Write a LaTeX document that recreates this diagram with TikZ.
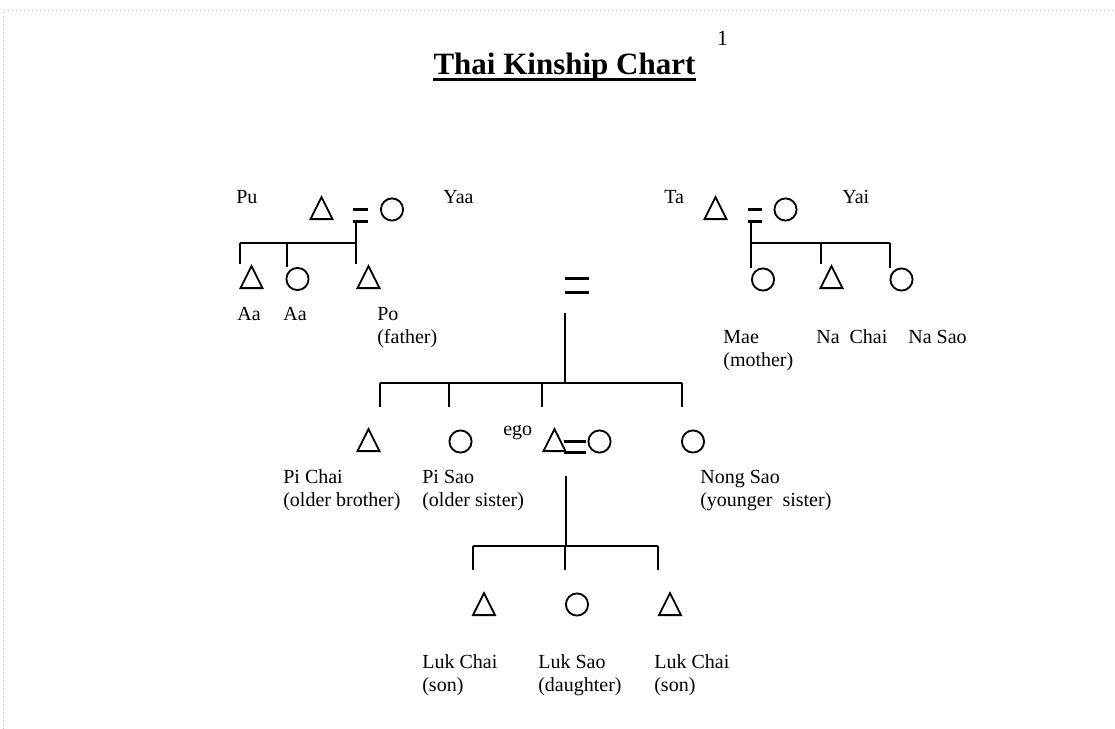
\documentclass[tikz,border=0pt]{standalone}
\usepackage{fontspec}
\setmainfont{Liberation Serif}
\usetikzlibrary{shapes.geometric}

\begin{document}
\begin{tikzpicture}[x=0.6pt, y=-0.6pt,
    male/.style={draw, line width=1.1pt, isosceles triangle, isosceles triangle stretches,
      shape border rotate=90, minimum width=13.2pt, minimum height=13.2pt, inner sep=0pt, anchor=south},
    female/.style={draw, circle, line width=1.1pt, minimum size=13.3pt, inner sep=0pt},
    wed/.style={inner sep=0pt},
    bar/.style={line width=1.8pt},
    kin/.style={line width=1.1pt},
    lbl/.style={anchor=base west, inner sep=0pt, align=left, font=\fontsize{12}{13.8}\selectfont}]
    \useasboundingbox (0,0) rectangle (1115,729);
    % Page edge
    \draw [gray!55, line width=0.6pt, dash pattern=on 0.9pt off 1.5pt] (3,729) -- (3,10) -- (1115,10);
    % Title
    \node [anchor=base, inner sep=0pt, font=\fontsize{18.6}{22}\selectfont\bfseries] (title) at (564.5,74) {Thai Kinship Chart};
    \draw [line width=2.1pt] ([yshift=-3.2pt]title.base west) -- ([yshift=-3.2pt]title.base east);
    \node [anchor=base, inner sep=0pt, font=\fontsize{13}{15}\selectfont] (page) at (722.5,45) {1};

    % Father's parents (base of a two-line label = its second line)
    \node [male] (pu) at (321.5,220) {};
    \node [female] (yaa) at (392,209.5) {};
    \node [wed, minimum width=9pt, minimum height=6.6pt] (eqP) at (360.5,215.5) {};
    \node [lbl] (puL) at (236,203) {Pu};
    \node [lbl] (yaaL) at (443,203) {Yaa};
    \node [male] (aa1) at (251.5,289) {};
    \node [female] (aa2) at (297.5,279) {};
    \node [male] (po) at (368.5,289) {};
    \node [lbl] (aa1L) at (237,320) {Aa};
    \node [lbl] (aa2L) at (283,320) {Aa};
    \node [lbl] (poL) at (377,343) {Po\\(father)};

    % Mother's parents
    \node [male] (ta) at (715.5,220) {};
    \node [female] (yai) at (785.5,209.5) {};
    \node [wed, minimum width=8.4pt, minimum height=6.6pt] (eqM) at (755,215.5) {};
    \node [lbl] (taL) at (664,203) {Ta};
    \node [lbl] (yaiL) at (842,203) {Yai};
    \node [female] (mae) at (763,279.5) {};
    \node [male] (nachai) at (831.5,289) {};
    \node [female] (nasao) at (901.5,279.5) {};
    \node [lbl] (maeL) at (723,366) {Mae\\(mother)};
    \node [lbl] (nachaiL) at (816,343) {Na~~Chai};
    \node [lbl] (nasaoL) at (908,343) {Na Sao};

    % Po = Mae and their children
    \node [wed, minimum width=14.4pt, minimum height=7.8pt] (eqPM) at (577,285.5) {};
    \node [male] (pichai) at (368.5,452) {};
    \node [female] (pisao) at (460.5,441.5) {};
    \node [male] (ego) at (554.5,452) {};
    \node [female] (wife) at (599.5,441.5) {};
    \node [female] (nongsao) at (693,441.5) {};
    \node [wed, minimum width=13.2pt, minimum height=6pt] (eqE) at (575,447) {};
    \node [lbl] (egoL) at (503,435) {ego};
    \node [lbl] (pichaiL) at (283,506) {Pi Chai\\(older brother)};
    \node [lbl] (pisaoL) at (422,506) {Pi Sao\\(older sister)};
    \node [lbl] (nongsaoL) at (700,506) {Nong Sao\\(younger~~sister)};

    % Ego's children
    \node [male] (lukchai1) at (484,616) {};
    \node [female] (luksao) at (577,604.5) {};
    \node [male] (lukchai2) at (670,616) {};
    \node [lbl] (lukchai1L) at (422,691) {Luk Chai\\(son)};
    \node [lbl] (luksaoL) at (538,691) {Luk Sao\\(daughter)};
    \node [lbl] (lukchai2L) at (654,691) {Luk Chai\\(son)};

    % Marriage bars
    \draw [bar] (eqP.north west) -- (eqP.north east) (eqP.south west) -- (eqP.south east);
    \draw [bar] (eqM.north west) -- (eqM.north east) (eqM.south west) -- (eqM.south east);
    \draw [bar, line width=2.1pt] (eqPM.north west) -- (eqPM.north east) (eqPM.south west) -- (eqPM.south east);
    \draw [bar] (eqE.north west) -- (eqE.north east) (eqE.south west) -- (eqE.south east);

    % Descent lines
    \coordinate (kP1) at (240,243);
    \coordinate (kP2) at (287,243);
    \coordinate (kP3) at (356,243);
    \draw [kin] (kP3 |- eqP.south) -- (kP3 |- po.north);
    \draw [kin] (kP1) -- (kP3);
    \draw [kin] (kP1) -- (kP1 |- aa1.north);
    \draw [kin] (kP2) -- (kP2 |- aa2.north);

    \coordinate (kM1) at (751,243);
    \coordinate (kM2) at (821,243);
    \coordinate (kM3) at (890,243);
    \draw [kin] (kM1 |- eqM.south) -- (kM1 |- mae.north);
    \draw [kin] (kM1) -- (kM3);
    \draw [kin] (kM2) -- (kM2 |- nachai.north);
    \draw [kin] (kM3) -- (kM3 |- nasao.north);

    \coordinate (kS0) at (565,383);
    \coordinate (kS1) at (380,383);
    \coordinate (kS2) at (449,383);
    \coordinate (kS3) at (542,383);
    \coordinate (kS4) at (682,383);
    \draw [kin] (kS0) -- ++(0,-70);
    \draw [kin] (kS1) -- (kS4);
    \draw [kin] (kS1) -- ++(0,24);
    \draw [kin] (kS2) -- ++(0,24);
    \draw [kin] (kS3) -- ++(0,24);
    \draw [kin] (kS4) -- ++(0,24);

    \coordinate (kC0) at (566,546);
    \coordinate (kC1) at (473,546);
    \coordinate (kC2) at (565,546);
    \coordinate (kC3) at (658,546);
    \draw [kin] (kC0) -- ++(0,-70);
    \draw [kin] (kC1) -- (kC3);
    \draw [kin] (kC1) -- ++(0,24);
    \draw [kin] (kC2) -- ++(0,24);
    \draw [kin] (kC3) -- ++(0,24);
\end{tikzpicture}
\end{document}
